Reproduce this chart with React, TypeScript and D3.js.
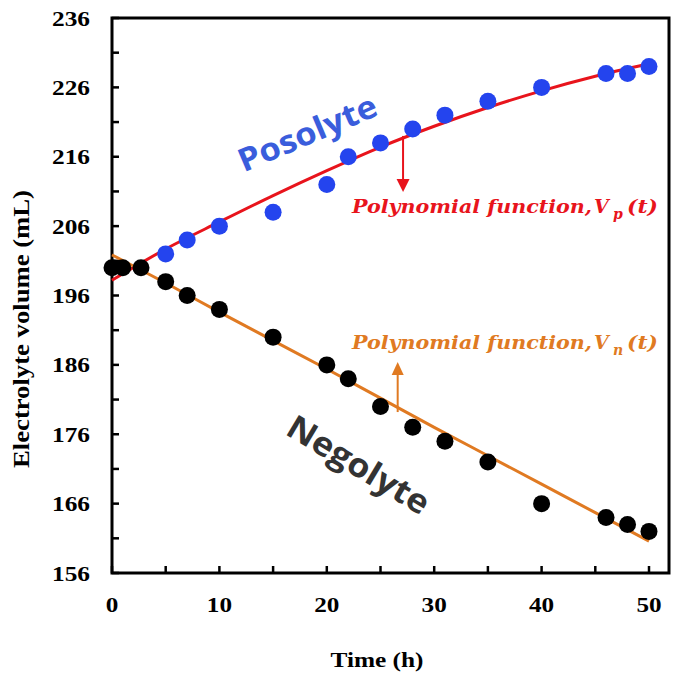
import React from "react";
import * as d3 from "d3";

// ---- data ----
const posT = [5, 7, 10, 15, 20, 22, 25, 28, 31, 35, 40, 46, 48, 50];
const posV = [202, 204, 206, 208, 212, 216, 218, 220, 222, 224, 226, 228, 228, 229];
const negT = [0, 1, 2.7, 5, 7, 10, 15, 20, 22, 25, 28, 31, 35, 40, 46, 48, 50];
const negV = [200, 200, 200, 198, 196, 194, 190, 186, 184, 180, 177, 175, 172, 166, 164, 163, 162];
const fitT = [0, 5, 10, 15, 20, 25, 30, 35, 40, 45, 50];
const fitP = [198.2, 202.7, 206.6, 210.4, 214.0, 217.4, 220.4, 223.1, 225.5, 227.6, 229.4];
const fitN = [201.85, 197.8, 193.6, 189.5, 185.4, 181.2, 177.0, 172.9, 168.8, 164.7, 160.6];
const xTicks = [0, 10, 20, 30, 40, 50];
const xMinor = [5, 15, 25, 35, 45];
const yTicks = [156, 166, 176, 186, 196, 206, 216, 226, 236];
const yMinor = [161, 171, 181, 191, 201, 211, 221, 231];

const W = 674;
const H = 673;
const L = 112, R = 669, T = 18, B = 573;

export default function App() {
  const x = d3.scaleLinear().domain([0, 50]).range([112, 649]);
  const y = d3.scaleLinear().domain([156, 236]).range([B, T]);
  const line = d3
    .line<[number, number]>()
    .x((d) => x(d[0]))
    .y((d) => y(d[1]))
    .curve(d3.curveMonotoneX);
  const pPath = line(fitT.map((t, i) => [t, fitP[i]]) as [number, number][]) || "";
  const nPath = line(fitT.map((t, i) => [t, fitN[i]]) as [number, number][]) || "";

  const serif = { fontFamily: "Liberation Serif, Tinos, Times New Roman, Times, serif" };
  const mathFont = { fontFamily: "DejaVu Serif, serif" };
  const sans = { fontFamily: "Open Sans, Noto Sans, sans-serif" };

  const red = "#e8141c";
  const orange = "#e07a22";
  const blue = "#2444ee";

  // arrow annotation anchors (time positions)
  const ax1 = x(27.1);
  const ay1 = y(219.0);
  const ax2 = x(26.6);
  const ay2 = y(179.2);

  return (
    <svg
      width={W}
      height={H}
      style={{ position: "absolute", left: 0, top: 0, background: "#fff" }}
      xmlns="http://www.w3.org/2000/svg"
    >
      <rect x={0} y={0} width={W} height={H} fill="#fff" />
      {/* frame */}
      <rect x={L} y={T} width={R - L} height={B - T} fill="none" stroke="#000" strokeWidth={3} />

      {/* ticks */}
      {[...xTicks, ...xMinor].map((t) => (
        <line key={"xt" + t} x1={x(t)} x2={x(t)} y1={B} y2={B - 7} stroke="#000" strokeWidth={2.5} />
      ))}
      {[...yTicks, ...yMinor].map((v) => (
        <line key={"yt" + v} x1={L} x2={L + 7} y1={y(v)} y2={y(v)} stroke="#000" strokeWidth={2.5} />
      ))}

      {/* tick labels */}
      {xTicks.map((t) => (
        <text
          key={"xl" + t}
          x={x(t)}
          y={612}
          textAnchor="middle"
          style={serif}
          fontWeight="bold"
          fontSize={22}
          textLength={String(t).length * 12.6}
          lengthAdjust="spacingAndGlyphs"
        >
          {t}
        </text>
      ))}
      {yTicks.map((v) => (
        <text
          key={"yl" + v}
          x={90}
          y={y(v) + 7.5}
          textAnchor="end"
          style={serif}
          fontWeight="bold"
          fontSize={22}
          textLength={38}
          lengthAdjust="spacingAndGlyphs"
        >
          {v}
        </text>
      ))}

      {/* axis titles */}
      <text
        x={377}
        y={667}
        textAnchor="middle"
        style={serif}
        fontWeight="bold"
        fontSize={22}
        textLength={93}
        lengthAdjust="spacingAndGlyphs"
      >
        Time (h)
      </text>
      <text
        transform={`translate(29,329) rotate(-90)`}
        textAnchor="middle"
        style={serif}
        fontWeight="bold"
        fontSize={24}
        textLength={278}
        lengthAdjust="spacingAndGlyphs"
      >
        Electrolyte volume  (mL)
      </text>

      {/* fit curves */}
      <path d={pPath} fill="none" stroke={red} strokeWidth={3} />
      <path d={nPath} fill="none" stroke={orange} strokeWidth={3} />

      {/* points */}
      {posT.map((t, i) => (
        <circle key={"p" + i} cx={x(t)} cy={y(posV[i])} r={8.5} fill={blue} />
      ))}
      {negT.map((t, i) => (
        <circle key={"n" + i} cx={x(t)} cy={y(negV[i])} r={8.5} fill="#000" />
      ))}

      {/* red arrow */}
      <line x1={ax1} x2={ax1} y1={ay1} y2={180} stroke={red} strokeWidth={2} />
      <polygon points={`${ax1 - 6.5},179 ${ax1 + 6.5},179 ${ax1},192`} fill={red} />
      {/* orange arrow */}
      <line x1={ax2} x2={ax2} y1={ay2} y2={374} stroke={orange} strokeWidth={2} />
      <polygon points={`${ax2 - 6},375 ${ax2 + 6},375 ${ax2},362`} fill={orange} />

      {/* polynomial labels */}
      <g fill={red} style={mathFont} fontWeight="bold" fontStyle="italic">
        <text x={352} y={213} fontSize={19} textLength={240} lengthAdjust="spacingAndGlyphs">
          Polynomial function,
        </text>
        <text x={594} y={213} fontSize={19}>V</text>
        <text x={613} y={219} fontSize={14}>p</text>
        <text x={627} y={213} fontSize={19} textLength={31} lengthAdjust="spacingAndGlyphs">
          (t)
        </text>
      </g>
      <g fill={orange} style={mathFont} fontWeight="bold" fontStyle="italic">
        <text x={352} y={349} fontSize={19} textLength={240} lengthAdjust="spacingAndGlyphs">
          Polynomial function,
        </text>
        <text x={594} y={349} fontSize={19}>V</text>
        <text x={613} y={355} fontSize={14}>n</text>
        <text x={627} y={349} fontSize={19} textLength={31} lengthAdjust="spacingAndGlyphs">
          (t)
        </text>
      </g>

      {/* series names */}
      <text
        transform="translate(307,132) rotate(-23)"
        textAnchor="middle"
        dominantBaseline="central"
        style={sans}
        fontWeight="bold"
        fontSize={32}
        fill="#3a5ddc"
        textLength={148}
        lengthAdjust="spacingAndGlyphs"
      >
        Posolyte
      </text>
      <text
        transform="translate(359,464) rotate(31)"
        textAnchor="middle"
        dominantBaseline="central"
        style={sans}
        fontWeight="bold"
        fontSize={33}
        fill="#333333"
        textLength={160}
        lengthAdjust="spacingAndGlyphs"
      >
        Negolyte
      </text>
    </svg>
  );
}
